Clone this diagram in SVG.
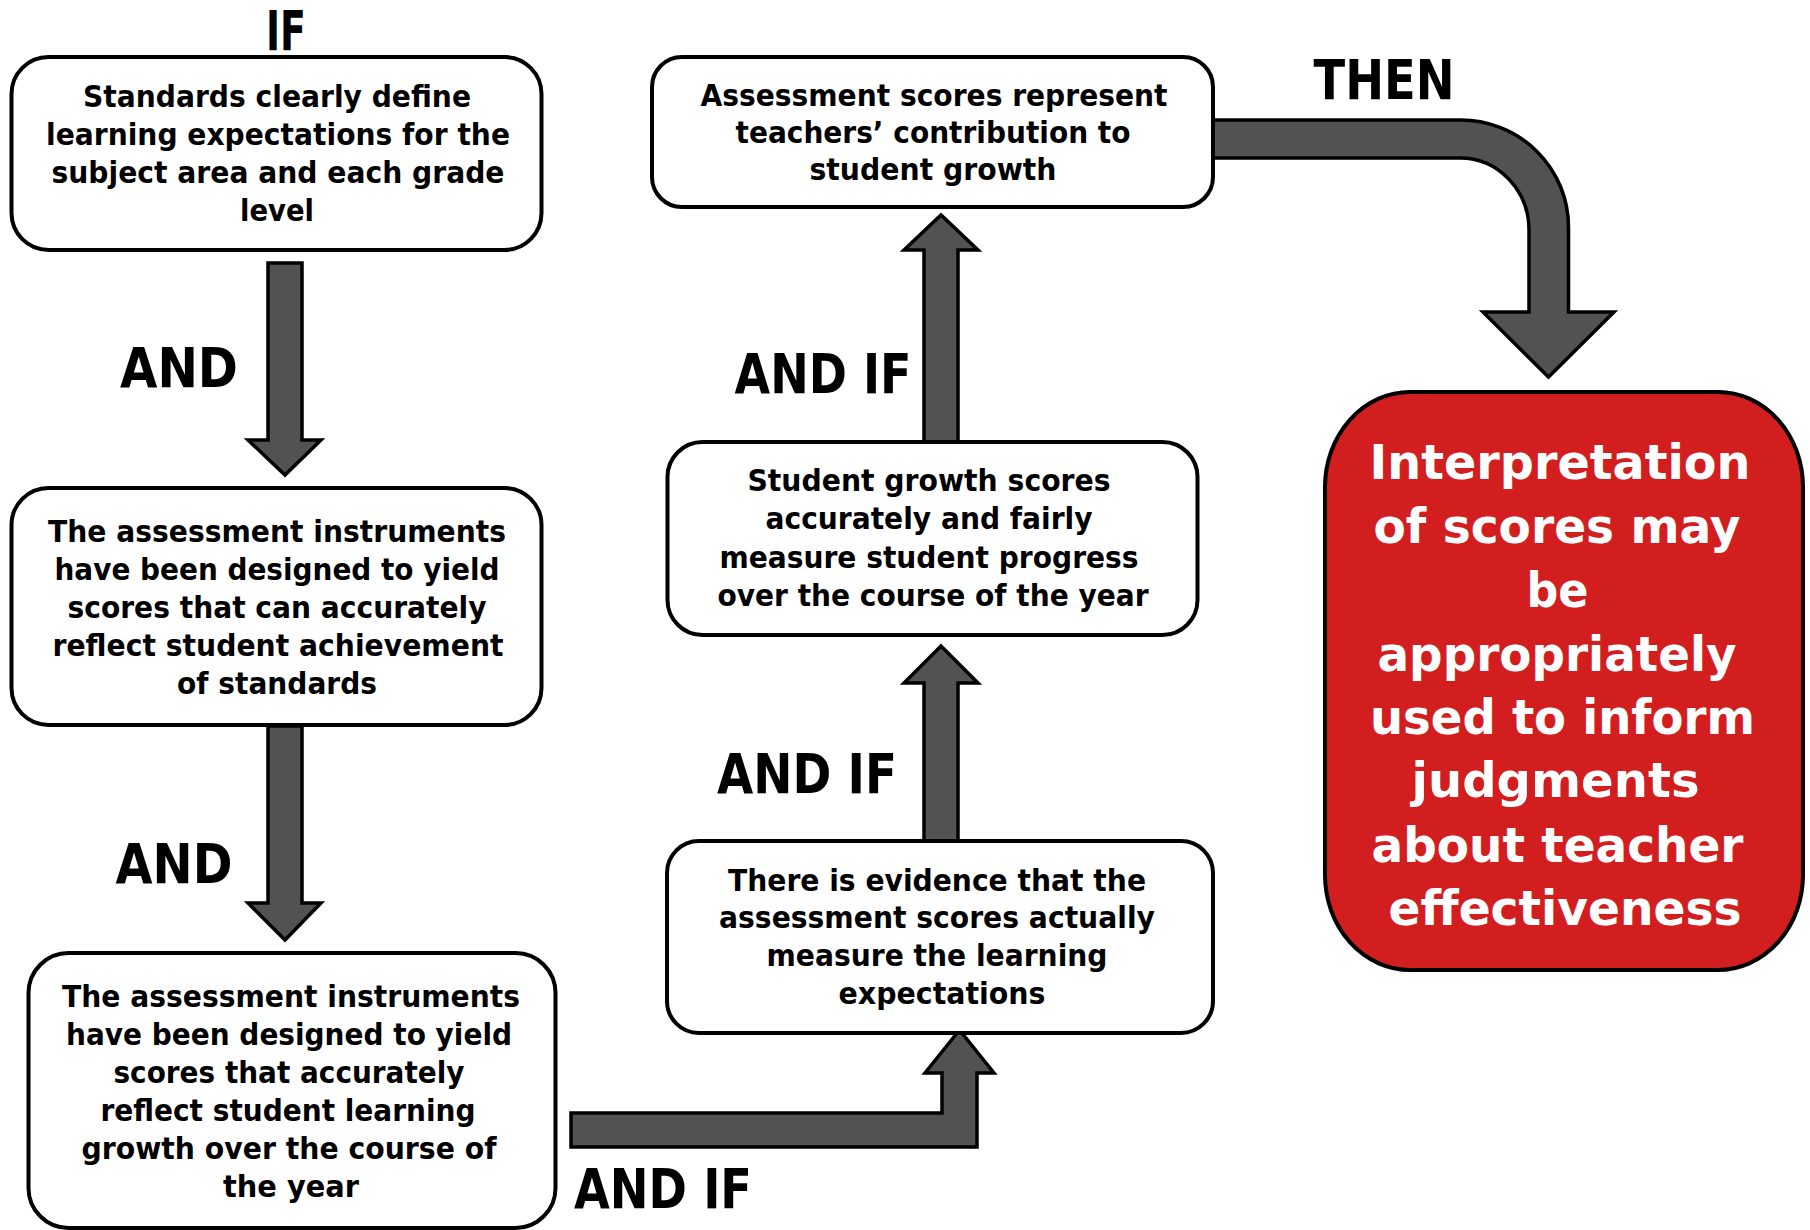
<svg xmlns="http://www.w3.org/2000/svg" width="1810" height="1230" viewBox="0 0 1810 1230">
<style>
.box{fill:#ffffff;stroke:#000000;stroke-width:4}
.red{fill:#D31E1F;stroke:#000000;stroke-width:4}
.arr{fill:#525252;stroke:#000000;stroke-width:3.5;stroke-linejoin:miter}
.t{font-family:"DejaVu Sans","Verdana",sans-serif;font-weight:bold;font-size:31px;fill:#000000;text-anchor:middle}
.lbl{font-family:"DejaVu Sans","Verdana",sans-serif;font-weight:bold;font-size:55px;fill:#000000;text-anchor:middle}
.w{font-family:"DejaVu Sans","Verdana",sans-serif;font-weight:bold;font-size:48px;fill:#ffffff;text-anchor:middle}
</style>
<rect width="1810" height="1230" fill="#ffffff"/>
<g id="connectors">
<path class="arr" d="M268,263 H302 V440 H321 L285,475 L248,440 H268 Z"/>
<path class="arr" d="M268,726 H302 V903 H321 L285,940 L248,903 H268 Z"/>
<path class="arr" d="M924,442 V250 H904 L941,215 L978,250 H958 V442 Z"/>
<path class="arr" d="M924,841 V683 H904 L941,646 L978,683 H958 V841 Z"/>
<path class="arr" d="M571,1113 H942 V1073 H925 L959.5,1030 L994,1073 H977 V1147 H571 Z"/>
<path class="arr" d="M1213,120 H1460 A108,107 0 0 1 1568.5,227 V312 H1614 L1548.5,377 L1483,312 H1529 V230 A69,72 0 0 0 1460,158 H1213 Z"/>
</g>
<g id="labels">
<text class="lbl" x="286" y="50" textLength="40" lengthAdjust="spacingAndGlyphs">IF</text>
<text class="lbl" x="179" y="387" textLength="118" lengthAdjust="spacingAndGlyphs">AND</text>
<text class="lbl" x="174" y="883" textLength="117" lengthAdjust="spacingAndGlyphs">AND</text>
<text class="lbl" x="823" y="393" textLength="177" lengthAdjust="spacingAndGlyphs">AND IF</text>
<text class="lbl" x="807" y="793" textLength="180" lengthAdjust="spacingAndGlyphs">AND IF</text>
<text class="lbl" x="663" y="1208" textLength="178" lengthAdjust="spacingAndGlyphs">AND IF</text>
<text class="lbl" x="1384" y="99" textLength="141" lengthAdjust="spacingAndGlyphs">THEN</text>
</g>
<g id="node-standards">
<rect class="box" x="11.5" y="57" width="530" height="193" rx="37"/>
<text class="t" x="277" y="107" textLength="388" lengthAdjust="spacingAndGlyphs">Standards clearly define</text>
<text class="t" x="278" y="145" textLength="464" lengthAdjust="spacingAndGlyphs">learning expectations for the</text>
<text class="t" x="278" y="183" textLength="453" lengthAdjust="spacingAndGlyphs">subject area and each grade</text>
<text class="t" x="277" y="221" textLength="74" lengthAdjust="spacingAndGlyphs">level</text>
</g>
<g id="node-instruments-achievement">
<rect class="box" x="11.5" y="488" width="530" height="237" rx="37"/>
<text class="t" x="277" y="542" textLength="458" lengthAdjust="spacingAndGlyphs">The assessment instruments</text>
<text class="t" x="277" y="580" textLength="445" lengthAdjust="spacingAndGlyphs">have been designed to yield</text>
<text class="t" x="277" y="618" textLength="419" lengthAdjust="spacingAndGlyphs">scores that can accurately</text>
<text class="t" x="278" y="656" textLength="451" lengthAdjust="spacingAndGlyphs">reflect student achievement</text>
<text class="t" x="277" y="694" textLength="200" lengthAdjust="spacingAndGlyphs">of standards</text>
</g>
<g id="node-instruments-growth">
<rect class="box" x="28.5" y="953" width="527" height="275" rx="40"/>
<text class="t" x="291" y="1007" textLength="458" lengthAdjust="spacingAndGlyphs">The assessment instruments</text>
<text class="t" x="289" y="1045" textLength="446" lengthAdjust="spacingAndGlyphs">have been designed to yield</text>
<text class="t" x="289" y="1083" textLength="351" lengthAdjust="spacingAndGlyphs">scores that accurately</text>
<text class="t" x="288" y="1121" textLength="375" lengthAdjust="spacingAndGlyphs">reflect student learning</text>
<text class="t" x="289" y="1159" textLength="415" lengthAdjust="spacingAndGlyphs">growth over the course of</text>
<text class="t" x="291" y="1197" textLength="136" lengthAdjust="spacingAndGlyphs">the year</text>
</g>
<g id="node-evidence">
<rect class="box" x="667" y="841" width="546" height="192" rx="32"/>
<text class="t" x="937" y="891" textLength="418" lengthAdjust="spacingAndGlyphs">There is evidence that the</text>
<text class="t" x="937" y="928" textLength="436" lengthAdjust="spacingAndGlyphs">assessment scores actually</text>
<text class="t" x="937" y="966" textLength="341" lengthAdjust="spacingAndGlyphs">measure the learning</text>
<text class="t" x="942" y="1004" textLength="207" lengthAdjust="spacingAndGlyphs">expectations</text>
</g>
<g id="node-growth-scores">
<rect class="box" x="667.5" y="442" width="530" height="193" rx="35"/>
<text class="t" x="929" y="491" textLength="363" lengthAdjust="spacingAndGlyphs">Student growth scores</text>
<text class="t" x="929" y="529" textLength="327" lengthAdjust="spacingAndGlyphs">accurately and fairly</text>
<text class="t" x="929" y="568" textLength="419" lengthAdjust="spacingAndGlyphs">measure student progress</text>
<text class="t" x="933" y="606" textLength="431" lengthAdjust="spacingAndGlyphs">over the course of the year</text>
</g>
<g id="node-teacher-contribution">
<rect class="box" x="652" y="57" width="561" height="150" rx="30"/>
<text class="t" x="934" y="106" textLength="467" lengthAdjust="spacingAndGlyphs">Assessment scores represent</text>
<text class="t" x="933" y="143" textLength="395" lengthAdjust="spacingAndGlyphs">teachers’ contribution to</text>
<text class="t" x="933" y="180" textLength="247" lengthAdjust="spacingAndGlyphs">student growth</text>
</g>
<g id="node-conclusion">
<rect class="red" x="1325" y="392" width="478" height="578" rx="85" ry="95"/>
<text class="w" x="1560" y="479" textLength="381" lengthAdjust="spacingAndGlyphs">Interpretation</text>
<text class="w" x="1557" y="543" textLength="367" lengthAdjust="spacingAndGlyphs">of scores may</text>
<text class="w" x="1557.5" y="607" textLength="62" lengthAdjust="spacingAndGlyphs">be</text>
<text class="w" x="1557" y="671" textLength="359" lengthAdjust="spacingAndGlyphs">appropriately</text>
<text class="w" x="1562.5" y="734" textLength="385" lengthAdjust="spacingAndGlyphs">used to inform</text>
<text class="w" x="1555.5" y="797" textLength="288" lengthAdjust="spacingAndGlyphs">judgments</text>
<text class="w" x="1557.5" y="862" textLength="372" lengthAdjust="spacingAndGlyphs">about teacher</text>
<text class="w" x="1565" y="925" textLength="353" lengthAdjust="spacingAndGlyphs">effectiveness</text>
</g>
</svg>
